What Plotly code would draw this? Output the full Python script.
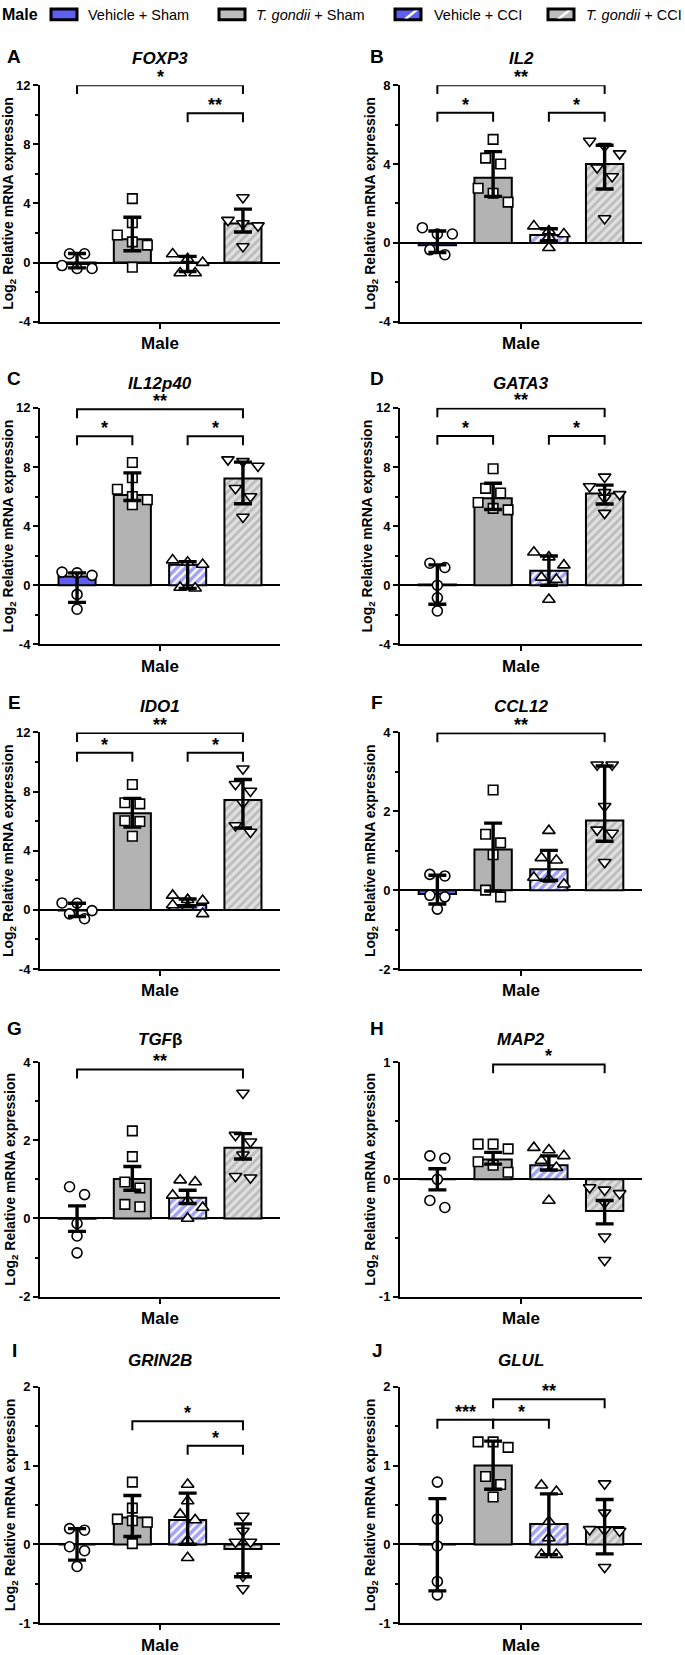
import plotly.graph_objects as go

# ---------------- data ----------------
groups = ["Vehicle + Sham", "<i>T. gondii</i> + Sham", "Vehicle + CCI", "<i>T. gondii</i> + CCI"]
x_labels = ["Male"]

foxp3_bar = [-0.10, 1.58, 0.00, 2.64]
foxp3_err_hi = [0.72, 1.49, 0.42, 0.98]
foxp3_err_lo = [0.26, 0.78, 0.60, 0.57]
foxp3_points = [[0.60, 0.60, -0.20, -0.40, -0.40],
                [4.33, 2.70, 1.87, 1.40, 1.18, -0.31],
                [0.58, 0.25, 0.00, -0.70, -0.70],
                [4.40, 2.87, 2.64, 2.50, 1.09]]
foxp3_sig = [(0, 3, 12.0, "*"), (2, 3, 10.1, "**")]

il2_bar = [-0.12, 3.31, 0.40, 4.00]
il2_err_hi = [0.72, 1.32, 0.32, 0.95]
il2_err_lo = [0.37, 0.95, 0.30, 1.27]
il2_points = [[0.77, 0.45, 0.45, -0.35, -0.60],
              [5.25, 4.30, 4.00, 2.77, 2.52, 2.07],
              [0.85, 0.60, 0.45, 0.30, -0.25],
              [5.17, 4.90, 4.53, 3.82, 3.37, 1.24]]
il2_sig = [(0, 3, 8.0, "**"), (0, 1, 6.6, "*"), (2, 3, 6.6, "*")]

il12_bar = [0.60, 6.11, 1.38, 7.22]
il12_err_hi = [0.24, 1.49, 0.22, 1.11]
il12_err_lo = [1.76, 0.38, 1.60, 1.71]
il12_points = [[0.89, 0.84, 0.67, -0.62, -1.62],
               [8.30, 7.27, 6.49, 6.00, 5.78, 5.44],
               [1.70, 1.56, 1.40, -0.15, -0.20],
               [8.50, 8.38, 8.07, 6.56, 6.00, 4.62]]
il12_sig = [(0, 3, 11.9, "**"), (0, 1, 10.07, "*"), (2, 3, 10.07, "*")]

gata3_bar = [0.05, 5.88, 0.98, 6.21]
gata3_err_hi = [1.33, 1.02, 1.00, 0.56]
gata3_err_lo = [1.34, 0.76, 0.98, 0.71]
gata3_points = [[1.49, 1.20, 0.00, -0.85, -1.74],
                [7.88, 6.55, 6.24, 5.60, 5.20, 5.10],
                [2.23, 1.90, 1.36, 0.53, 0.38, -0.96],
                [7.33, 6.68, 6.28, 6.15, 5.90, 4.88]]
gata3_sig = [(0, 3, 11.96, "**"), (0, 1, 10.1, "*"), (2, 3, 10.1, "*")]

ido1_bar = [-0.05, 6.54, 0.33, 7.43]
ido1_err_hi = [0.50, 1.00, 0.41, 1.39]
ido1_err_lo = [0.40, 0.94, 0.11, 1.89]
ido1_points = [[0.47, 0.45, -0.05, -0.27, -0.60],
               [8.48, 7.25, 7.17, 6.03, 5.98, 4.98],
               [0.98, 0.69, 0.63, 0.33, 0.20, -0.27],
               [9.55, 8.50, 8.04, 7.25, 5.71, 5.27]]
ido1_sig = [(0, 3, 11.96, "**"), (0, 1, 10.63, "*"), (2, 3, 10.63, "*")]

ccl12_bar = [-0.10, 1.03, 0.53, 1.77]
ccl12_err_hi = [0.48, 0.67, 0.48, 1.38]
ccl12_err_lo = [0.25, 1.05, 0.28, 0.53]
ccl12_points = [[0.40, 0.36, -0.13, -0.17, -0.48],
                [2.54, 1.42, 1.20, 0.90, 0.00, -0.17],
                [1.51, 0.82, 0.76, 0.32, 0.28, 0.15],
                [3.18, 3.18, 2.13, 1.53, 1.45, 0.71]]
ccl12_sig = [(0, 3, 3.98, "**")]

tgfb_bar = [-0.01, 1.01, 0.53, 1.81]
tgfb_err_hi = [0.33, 0.32, 0.19, 0.36]
tgfb_err_lo = [0.32, 0.29, 0.15, 0.29]
tgfb_points = [[0.81, 0.61, -0.13, -0.45, -0.88],
               [2.24, 1.58, 0.93, 0.78, 0.36, 0.30],
               [0.98, 0.93, 0.59, 0.45, 0.28, 0.00],
               [3.21, 2.13, 1.96, 1.63, 1.08, 1.04]]
tgfb_sig = [(0, 3, 3.81, "**")]

map2_bar = [0.00, 0.17, 0.12, -0.27]
map2_err_hi = [0.09, 0.06, 0.08, 0.09]
map2_err_lo = [0.09, 0.04, 0.04, 0.11]
map2_points = [[0.20, 0.18, 0.00, -0.18, -0.24],
               [0.30, 0.30, 0.26, 0.15, 0.12, 0.06],
               [0.27, 0.25, 0.20, 0.16, 0.10, -0.18],
               [-0.07, -0.09, -0.12, -0.20, -0.49, -0.69]]
map2_sig = [(1, 3, 0.98, "*")]

grin2b_bar = [0.00, 0.34, 0.31, -0.06]
grin2b_err_hi = [0.20, 0.28, 0.34, 0.32]
grin2b_err_lo = [0.20, 0.24, 0.31, 0.35]
grin2b_points = [[0.20, 0.18, -0.03, -0.08, -0.28],
                 [0.79, 0.46, 0.32, 0.30, 0.28, 0.01],
                 [0.76, 0.55, 0.38, 0.31, 0.05, -0.17],
                 [0.36, 0.17, 0.03, 0.03, -0.40, -0.56]]
grin2b_sig = [(1, 3, 1.56, "*"), (2, 3, 1.25, "*")]

glul_bar = [0.00, 1.00, 0.26, 0.22]
glul_err_hi = [0.58, 0.31, 0.38, 0.35]
glul_err_lo = [0.59, 0.30, 0.39, 0.34]
glul_points = [[0.79, 0.32, -0.02, -0.47, -0.64],
               [1.30, 1.30, 1.23, 0.86, 0.76, 0.60],
               [0.75, 0.67, 0.29, 0.08, -0.13, -0.13],
               [0.77, 0.40, 0.19, 0.18, 0.17, -0.29]]
glul_sig = [(0, 1, 1.58, "***"), (1, 2, 1.58, "*"), (1, 3, 1.84, "**")]

panel_letters = ["A", "B", "C", "D", "E", "F", "G", "H", "I", "J"]
panel_titles = ["<i>FOXP3</i>", "<i>IL2</i>", "<i>IL12p40</i>", "<i>GATA3</i>", "<i>IDO1</i>",
                "<i>CCL12</i>", "<i>TGF</i>β", "<i>MAP2</i>", "<i>GRIN2B</i>", "<i>GLUL</i>"]
y_ticks = [[-4, 0, 4, 8, 12], [-4, 0, 4, 8], [-4, 0, 4, 8, 12], [-4, 0, 4, 8, 12], [-4, 0, 4, 8, 12],
           [-2, 0, 2, 4], [-2, 0, 2, 4], [-1, 0, 1], [-1, 0, 1, 2], [-1, 0, 1, 2]]

panels = [
    (foxp3_bar, foxp3_err_hi, foxp3_err_lo, foxp3_points, foxp3_sig),
    (il2_bar, il2_err_hi, il2_err_lo, il2_points, il2_sig),
    (il12_bar, il12_err_hi, il12_err_lo, il12_points, il12_sig),
    (gata3_bar, gata3_err_hi, gata3_err_lo, gata3_points, gata3_sig),
    (ido1_bar, ido1_err_hi, ido1_err_lo, ido1_points, ido1_sig),
    (ccl12_bar, ccl12_err_hi, ccl12_err_lo, ccl12_points, ccl12_sig),
    (tgfb_bar, tgfb_err_hi, tgfb_err_lo, tgfb_points, tgfb_sig),
    (map2_bar, map2_err_hi, map2_err_lo, map2_points, map2_sig),
    (grin2b_bar, grin2b_err_hi, grin2b_err_lo, grin2b_points, grin2b_sig),
    (glul_bar, glul_err_hi, glul_err_lo, glul_points, glul_sig),
]

# ---------------- style / layout ----------------
W, H = 685, 1655
FONT = "Liberation Sans, Arial, Helvetica, sans-serif"
BLUE = "#5f5ff2"
GREY = "#b3b3b3"
HGREY_BG = "#e0e0e0"
HGREY_FG = "#959595"
col_px = [(40, 280), (400, 642)]
row_px = [(79, 318), (405, 644), (733, 972), (1066, 1303), (1394, 1633)]
title_y = [52, 380, 707, 1043, 1368]
letter_y = [50, 375, 703, 1032, 1357]
letter_x = [14, 377]
X_RANGE = (-0.67, 3.67)
BAR_W = 0.67
symbols = ["circle", "square", "triangle-up", "triangle-down"]
msizes = [10, 9.5, 11, 11]

bar_markers = [
    dict(color=BLUE, line=dict(color="black", width=2)),
    dict(color=GREY, line=dict(color="black", width=2)),
    dict(color="white", line=dict(color="black", width=2),
         pattern=dict(shape="/", fgcolor="#4646ee", bgcolor="white", size=6, solidity=0.6)),
    dict(color=HGREY_BG, line=dict(color="black", width=2),
         pattern=dict(shape="/", fgcolor=HGREY_FG, bgcolor=HGREY_BG, size=6, solidity=0.45)),
]


def px_x(p):
    return p / W


def px_y(p):
    return 1 - p / H


def spread(vals, ypx_per_unit, xpx_per_unit, thresh=9.0, step=15.0):
    order = sorted(range(len(vals)), key=lambda k: -vals[k])
    clusters = []
    for k in order:
        if clusters and len(clusters[-1]) < 3 and abs(vals[clusters[-1][-1]] - vals[k]) * ypx_per_unit < thresh:
            clusters[-1].append(k)
        else:
            clusters.append([k])
    off = [0.0] * len(vals)
    for c in clusters:
        n = len(c)
        for j, k in enumerate(c):
            off[k] = (j - (n - 1) / 2) * step / xpx_per_unit
    return off


fig = go.Figure()
layout = dict(width=W, height=H, margin=dict(l=0, r=0, t=0, b=0), paper_bgcolor="white",
              plot_bgcolor="white", showlegend=False, barmode="overlay",
              font=dict(family=FONT, color="black"))
annotations = []
shapes = []

for i, (bar, ehi, elo, pts, sig) in enumerate(panels):
    r, c = divmod(i, 2)
    n = i + 1
    xa = "x" if n == 1 else f"x{n}"
    ya = "y" if n == 1 else f"y{n}"
    xl, xr = col_px[c]
    yt, yb = row_px[r]
    ticks = y_ticks[i]
    y0, y1 = ticks[0], ticks[-1]
    dt = ticks[1] - ticks[0]
    ypu = (yb - yt) / (y1 - y0)
    xpu = (xr - xl) / (X_RANGE[1] - X_RANGE[0])

    layout["xaxis" if n == 1 else f"xaxis{n}"] = dict(
        domain=[px_x(xl), px_x(xr)], anchor=ya, range=list(X_RANGE), showgrid=False, zeroline=False,
        showline=True, linecolor="black", linewidth=2, ticks="outside", ticklen=5, tickwidth=2,
        tickcolor="black", tickmode="array", tickvals=[1.5], ticktext=x_labels,
        tickfont=dict(size=17, weight="bold", family=FONT, color="black"), fixedrange=True)
    layout["yaxis" if n == 1 else f"yaxis{n}"] = dict(
        domain=[px_y(yb), px_y(yt)], anchor=xa, range=[y0, y1], showgrid=False,
        zeroline=True, zerolinecolor="black", zerolinewidth=2,
        showline=True, linecolor="black", linewidth=2, ticks="outside", ticklen=5, tickwidth=2,
        tickcolor="black", tickmode="array", tickvals=ticks, ticktext=[str(t) for t in ticks],
        minor=dict(dtick=dt / 2, tick0=y0, ticks="outside", ticklen=3, tickwidth=2, tickcolor="black",
                   showgrid=False),
        tickfont=dict(size=13, weight="bold", family=FONT, color="black"),
        title=dict(text="Log<sub>2</sub> Relative mRNA expression", standoff=0,
                   font=dict(size=14, weight="bold", family=FONT, color="black")),
        fixedrange=True)

    # bars
    for g in range(4):
        fig.add_trace(go.Bar(x=[g], y=[bar[g]], width=BAR_W, marker=bar_markers[g],
                             xaxis=xa, yaxis=ya, name=groups[g], hoverinfo="skip"))
    # individual points
    for g in range(4):
        off = spread(pts[g], ypu, xpu)
        fig.add_trace(go.Scatter(x=[g + o for o in off], y=pts[g], mode="markers", xaxis=xa, yaxis=ya,
                                 marker=dict(symbol=symbols[g], size=msizes[g], color="white",
                                             line=dict(color="black", width=1.6)),
                                 hoverinfo="skip", cliponaxis=False))
    # error bars (drawn above the points)
    fig.add_trace(go.Scatter(x=[0, 1, 2, 3], y=bar, mode="markers", xaxis=xa, yaxis=ya,
                             marker=dict(size=1, color="rgba(0,0,0,0)"),
                             error_y=dict(type="data", symmetric=False, array=ehi, arrayminus=elo,
                                          color="black", thickness=3.4, width=9),
                             hoverinfo="skip", cliponaxis=False))
    # significance brackets
    drop = 9 / ypu
    for (a, b, lvl, lab) in sig:
        fig.add_trace(go.Scatter(x=[a, a, b, b], y=[lvl - drop, lvl, lvl, lvl - drop], mode="lines",
                                 xaxis=xa, yaxis=ya, line=dict(color="black", width=2),
                                 hoverinfo="skip", cliponaxis=False))
        annotations.append(dict(x=(a + b) / 2, y=lvl, xref=xa, yref=ya, text=lab, showarrow=False,
                                xanchor="center", yanchor="bottom", yshift=-4,
                                font=dict(size=18, weight="bold", family=FONT, color="black")))
    # panel title and letter
    annotations.append(dict(x=px_x((xl + xr) / 2), y=px_y(title_y[r]), xref="paper", yref="paper",
                            text=panel_titles[i], showarrow=False, xanchor="center", yanchor="middle",
                            font=dict(size=17, weight="bold", family=FONT, color="black")))
    annotations.append(dict(x=px_x(letter_x[c]), y=px_y(letter_y[r]), xref="paper", yref="paper",
                            text=panel_letters[i], showarrow=False, xanchor="center", yanchor="middle",
                            font=dict(size=19, weight="bold", family=FONT, color="black")))

# ---------------- legend (top row) ----------------
annotations.append(dict(x=0, y=px_y(8), xref="paper", yref="paper", text="Male", showarrow=False,
                        xanchor="left", yanchor="middle",
                        font=dict(size=16, weight="bold", family=FONT, color="black")))
sw_x = [51, 219, 395, 548]
tx_x = [86, 254, 432, 584]
sw_fill = [BLUE, "#bdbdbd", BLUE, "#bdbdbd"]
for g in range(4):
    shapes.append(dict(type="rect", xref="paper", yref="paper", x0=px_x(sw_x[g]), x1=px_x(sw_x[g] + 26),
                       y0=px_y(13), y1=px_y(2), fillcolor=sw_fill[g], line=dict(color="black", width=3)))
    if g >= 2:
        shapes.append(dict(type="path", xref="paper", yref="paper",
                           path=f"M {px_x(sw_x[g] + 9)},{px_y(11.5)} L {px_x(sw_x[g] + 19)},{px_y(3.5)} "
                                f"L {px_x(sw_x[g] + 23)},{px_y(3.5)} L {px_x(sw_x[g] + 13)},{px_y(11.5)} Z",
                           fillcolor="white", line=dict(width=0)))
    annotations.append(dict(x=px_x(tx_x[g]), y=px_y(8), xref="paper", yref="paper", text=groups[g],
                            showarrow=False, xanchor="left", yanchor="middle",
                            font=dict(size=14.5, family=FONT, color="black")))

layout["annotations"] = annotations
layout["shapes"] = shapes
fig.update_layout(**layout)

fig.write_html("out.html", config={"displayModeBar": False},
               post_script="document.body.style.margin='0';document.body.style.overflow='hidden';")
